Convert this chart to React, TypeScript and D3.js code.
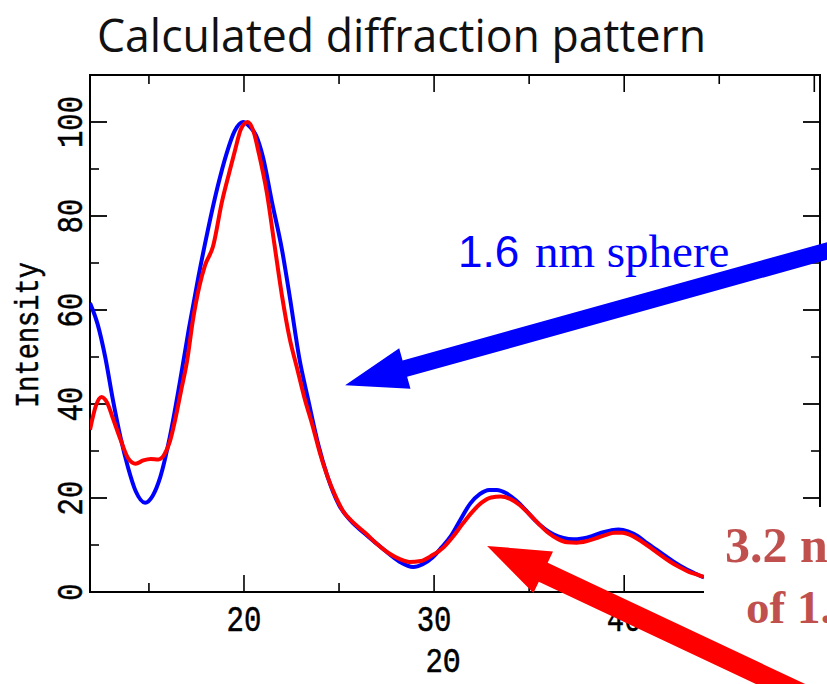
import React from "react";
import * as d3 from "d3";

// ---- data (2θ in degrees, intensity) ----
const twoTheta16 = [11.9, 12.3, 12.7, 13.1, 13.5, 13.9, 14.3, 14.8, 15.2, 15.6, 16.1, 16.6, 17.1, 17.6, 18.1, 18.6, 19.1, 19.5, 19.95, 20.3, 20.65, 21.0, 21.47, 22.0, 22.42, 22.9, 23.4, 23.9, 24.4, 25.0, 25.6, 26.3, 27.0, 27.6, 28.2, 28.9, 29.4, 29.9, 30.4, 30.9, 31.4, 31.9, 32.4, 32.9, 33.3, 33.8, 34.3, 34.8, 35.3, 35.8, 36.3, 36.8, 37.3, 37.8, 38.3, 38.8, 39.3, 39.7, 40.2, 40.7, 41.2, 41.7, 42.2, 42.7, 43.2, 43.7, 44.2];
const sphere16 = [61.5, 57, 50, 41, 33, 26.5, 21.5, 19, 20.5, 24.5, 33, 44, 56, 67, 77, 86, 93.5, 98, 100, 99, 97, 92.5, 83, 72.8, 62.5, 50, 40.5, 31.5, 24.5, 18.5, 15.2, 12.6, 10.2, 8.2, 6.4, 5.3, 5.9, 7.3, 9.5, 12, 15.5, 18.8, 20.8, 21.7, 21.7, 21, 19.5, 17.5, 15.3, 13.5, 12.2, 11.5, 11.2, 11.4, 11.9, 12.6, 13.1, 13.3, 12.9, 11.9, 10.4, 9, 7.6, 6.2, 5, 4, 3.1];

const twoTheta32 = [11.9, 12.2, 12.5, 12.8, 13.1, 13.5, 13.9, 14.3, 14.7, 15.1, 15.5, 15.8, 16.1, 16.4, 16.7, 17.0, 17.32, 17.65, 17.95, 18.37, 18.84, 19.21, 19.53, 19.84, 20.2, 20.5, 20.8, 21.2, 21.6, 22.0, 22.4, 22.8, 23.2, 23.6, 24.0, 24.4, 24.8, 25.2, 25.8, 26.4, 27.0, 27.6, 28.2, 28.7, 29.3, 29.9, 30.5, 31.0, 31.5, 32.0, 32.5, 33.0, 33.5, 34.0, 34.5, 35.0, 35.5, 36.0, 36.5, 37.0, 37.5, 38.0, 38.5, 39.0, 39.5, 39.9, 40.4, 40.9, 41.4, 41.9, 42.4, 42.9, 43.4, 43.9, 44.2];
const sphere32 = [34.5, 39.5, 41.5, 40.3, 37, 32.5, 28.5, 27.3, 28, 28.3, 28.2, 29.2, 32, 37, 43, 49, 58, 65, 69.5, 73.5, 83, 89, 94, 98.5, 100, 98, 93, 85, 74, 63, 54, 47.5, 41, 35.5, 29.5, 24.5, 20.5, 17.3, 14.6, 12.5, 10.2, 8.3, 7.0, 6.4, 6.6, 7.8, 9.5, 11.8, 14.5, 17, 19, 20.1, 20.3, 19.8, 18.5, 16.6, 14.5, 12.6, 11.3, 10.6, 10.5, 10.8, 11.4, 12.1, 12.6, 12.6, 12, 10.8, 9.4, 7.9, 6.5, 5.3, 4.3, 3.6, 3.2];

const xMajorTicks = [20, 30, 40, 50];
const xMinorTicks = [15, 25, 35, 45];
const yMajorTicks = [0, 20, 40, 60, 80, 100];
const yMinorTicks = [10, 30, 50, 70, 90];

// annotation arrows in data coordinates: [tailX, tailY, tipX, tipY]
const blueArrow = [52.4, 74.5, 25.32, 44.0];
const redArrow = [51.6, -26.0, 32.79, 9.8];

const W = 827;
const H = 684;

function arrowPath(x0: number, y0: number, x1: number, y1: number, shaft: number, headLen: number, headHalf: number) {
  const dx = x1 - x0, dy = y1 - y0;
  const L = Math.hypot(dx, dy);
  const ux = dx / L, uy = dy / L;
  const px = -uy, py = ux;
  const bx = x1 - ux * headLen, by = y1 - uy * headLen;
  const s = shaft / 2;
  const pts = [
    [x0 + px * s, y0 + py * s],
    [bx + px * s, by + py * s],
    [bx + px * headHalf, by + py * headHalf],
    [x1, y1],
    [bx - px * headHalf, by - py * headHalf],
    [bx - px * s, by - py * s],
    [x0 - px * s, y0 - py * s],
  ];
  return "M" + pts.map((p) => p[0].toFixed(1) + "," + p[1].toFixed(1)).join("L") + "Z";
}

export default function App() {
  const x = d3.scaleLinear().domain([11.9, 50.3]).range([90, 820]);
  const y = d3.scaleLinear().domain([0, 110]).range([592, 75]);
  const [x0, x1] = x.range();
  const [y0, y1] = y.range();

  const line = d3
    .line<[number, number]>()
    .x((d) => x(d[0]))
    .y((d) => y(d[1]))
    .curve(d3.curveMonotoneX);

  const blueData = twoTheta16.map((t, i) => [t, sphere16[i]] as [number, number]);
  const redData = twoTheta32.map((t, i) => [t, sphere32[i]] as [number, number]);

  const mono = "'Liberation Mono', 'DejaVu Sans Mono', monospace";
  const majorLen = 17;
  const minorLen = 9;
  const labelStyle = { fontFamily: mono, fontSize: 29, fill: "#000", stroke: "#000", strokeWidth: 0.4 } as const;

  return (
    <svg width={W} height={H} style={{ position: "absolute", left: 0, top: 0, background: "#fff" }}>
      <rect x={0} y={0} width={W} height={H} fill="#fff" />
      <text x={97} y={52} fontFamily="'Open Sans', sans-serif" fontSize={45} fill="#111" textLength={609} lengthAdjust="spacingAndGlyphs">
        Calculated diffraction pattern
      </text>

      <defs>
        <clipPath id="plotClip">
          <rect x={x0} y={y1} width={x1 - x0} height={y0 - y1} />
        </clipPath>
      </defs>

      {/* frame */}
      <rect x={x0} y={y1} width={x1 - x0} height={y0 - y1} fill="none" stroke="#000" strokeWidth={2} />

      {/* x ticks bottom & top */}
      {xMajorTicks.map((t) => (
        <g key={"xM" + t}>
          <line x1={x(t)} x2={x(t)} y1={y0} y2={y0 - majorLen} stroke="#000" strokeWidth={1.6} />
          <line x1={x(t)} x2={x(t)} y1={y1} y2={y1 + majorLen} stroke="#000" strokeWidth={1.6} />
          <text transform={`translate(${x(t)},631) scale(1,1.25)`} textAnchor="middle" {...labelStyle}>
            {t}
          </text>
        </g>
      ))}
      {xMinorTicks.map((t) => (
        <g key={"xm" + t}>
          <line x1={x(t)} x2={x(t)} y1={y0} y2={y0 - minorLen} stroke="#000" strokeWidth={1.6} />
          <line x1={x(t)} x2={x(t)} y1={y1} y2={y1 + minorLen} stroke="#000" strokeWidth={1.6} />
        </g>
      ))}

      {/* y ticks left & right */}
      {yMajorTicks.map((t) => (
        <g key={"yM" + t}>
          <line x1={x0} x2={x0 + majorLen} y1={y(t)} y2={y(t)} stroke="#000" strokeWidth={1.8} />
          <line x1={x1} x2={x1 - majorLen} y1={y(t)} y2={y(t)} stroke="#000" strokeWidth={1.8} />
          <text transform={`translate(82,${y(t)}) rotate(-90) scale(1,1.25)`} textAnchor="middle" {...labelStyle}>
            {t}
          </text>
        </g>
      ))}
      {yMinorTicks.map((t) => (
        <g key={"ym" + t}>
          <line x1={x0} x2={x0 + minorLen} y1={y(t)} y2={y(t)} stroke="#000" strokeWidth={1.6} />
          <line x1={x1} x2={x1 - minorLen} y1={y(t)} y2={y(t)} stroke="#000" strokeWidth={1.6} />
        </g>
      ))}

      <text transform={`translate(38,335) rotate(-90) scale(1,1.2)`} textAnchor="middle" fontFamily={mono} fontSize={27} fill="#000" stroke="#000" strokeWidth={0.4}>
        Intensity
      </text>
      <text transform={`translate(443,672) scale(1,1.2)`} textAnchor="middle" {...labelStyle}>
        2Θ
      </text>

      {/* curves */}
      <g clipPath="url(#plotClip)">
        <path d={line(blueData) || ""} fill="none" stroke="#0000ff" strokeWidth={4} />
        <path d={line(redData) || ""} fill="none" stroke="#ff0000" strokeWidth={4} />
      </g>

      {/* label box covering lower right */}
      <rect x={704} y={507} width={W - 704} height={H - 507} fill="#fff" />
      <text x={725} y={562} fontFamily="'Liberation Serif', 'Times New Roman', serif" fontWeight="bold" fontSize={50} fill="#c0504d">
        3.2 nm
      </text>
      <text x={746} y={623} fontFamily="'Liberation Serif', 'Times New Roman', serif" fontWeight="bold" fontSize={47} fill="#c0504d">
        of 1.6
      </text>

      <text x={458} y={267} fontFamily="'Liberation Sans', Arial, sans-serif" fontSize={44} fill="#0000ff">
        1.6
      </text>
      <text x={535} y={267} fontFamily="'Liberation Serif', 'Times New Roman', serif" fontSize={47} fill="#0000ff">
        nm sphere
      </text>

      {/* arrows */}
      <path
        d={arrowPath(x(blueArrow[0]), y(blueArrow[1]), x(blueArrow[2]), y(blueArrow[3]), 17, 62, 21)}
        fill="#0000ff"
      />
      <path
        d={arrowPath(x(redArrow[0]), y(redArrow[1]), x(redArrow[2]), y(redArrow[3]), 21, 62, 23)}
        fill="#ff0000"
      />
    </svg>
  );
}
